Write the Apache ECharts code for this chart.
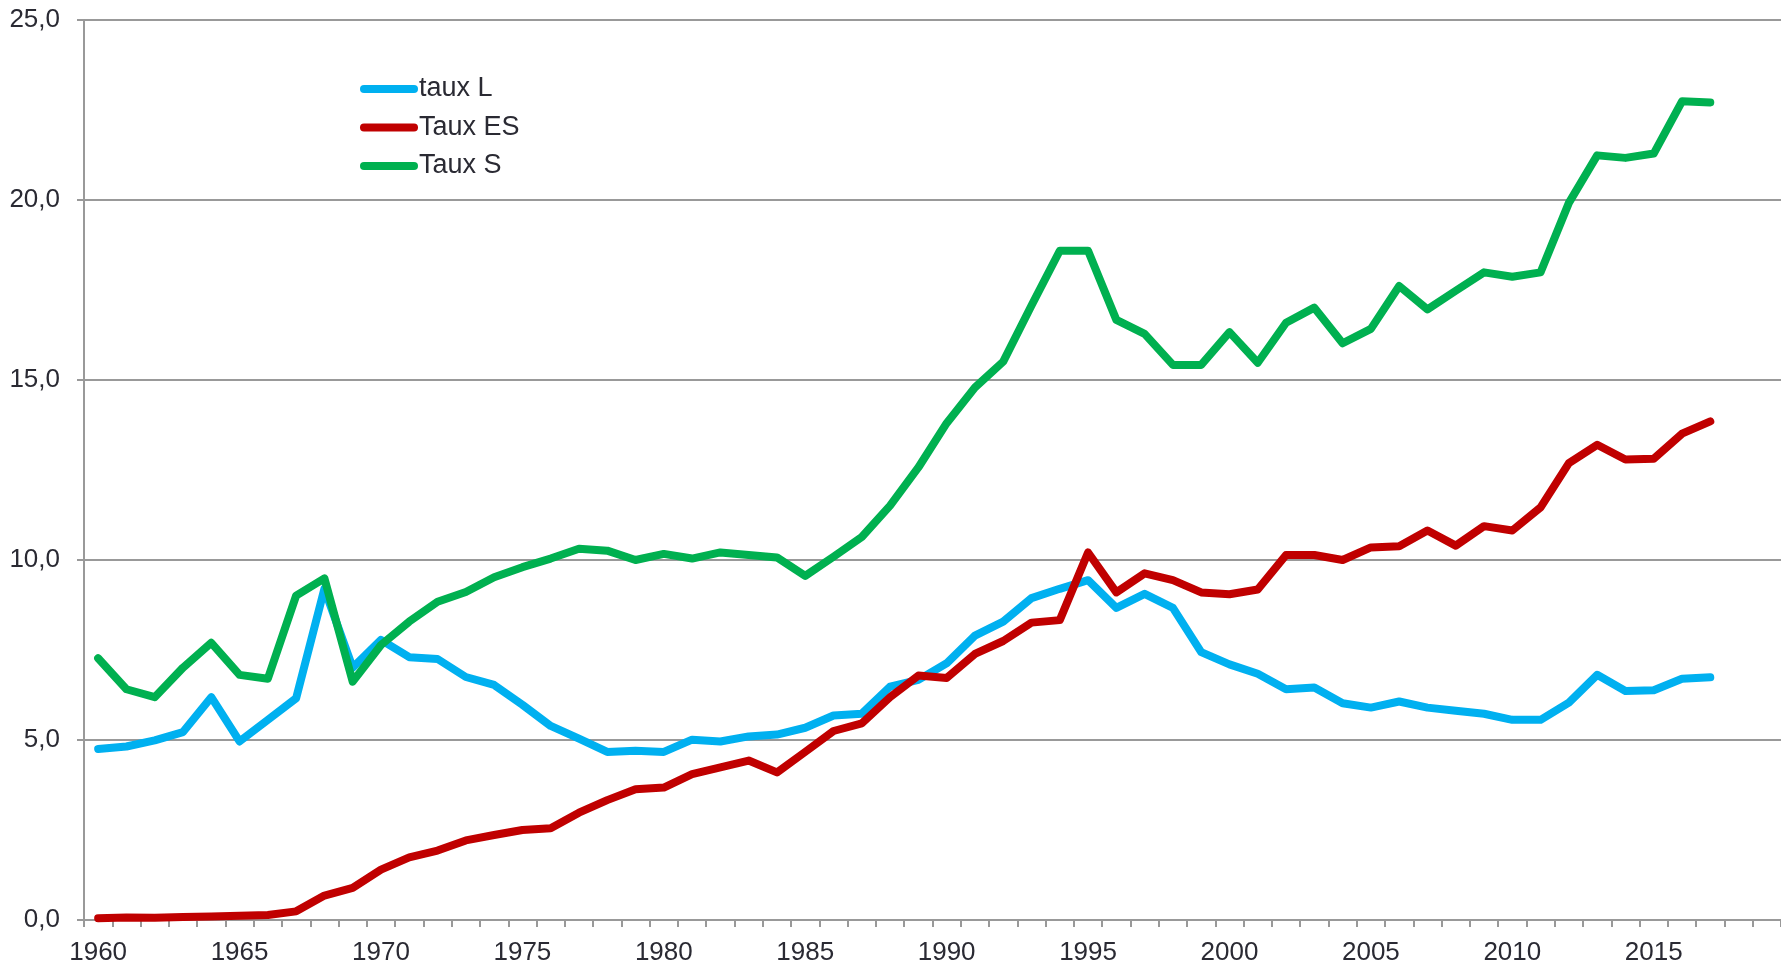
<!DOCTYPE html>
<html>
<head>
<meta charset="utf-8">
<script src="https://cdn.jsdelivr.net/npm/echarts@6/dist/echarts.min.js"></script>
<style>
  html, body { margin: 0; padding: 0; background: #fff; }
  #main { width: 1781px; height: 966px; }
</style>
</head>
<body>
<div id="main"></div>
<script>
// categories 1960..2019 (data stops at 2017)
var years = [];
for (var y = 1960; y <= 2019; y++) years.push(String(y));

var tauxL = [
  4.75, 4.82, 4.99, 5.22, 6.19, 4.96, 5.56, 6.16, 9.2, 7.01,
  7.78, 7.3, 7.25, 6.75, 6.53, 5.98, 5.39, 5.04, 4.67, 4.7,
  4.67, 5.01, 4.96, 5.1, 5.15, 5.34, 5.68, 5.73, 6.48, 6.67,
  7.13, 7.9, 8.29, 8.94, 9.2, 9.44, 8.67, 9.06, 8.67, 7.44,
  7.1, 6.84, 6.41, 6.46, 6.02, 5.9, 6.07, 5.9, 5.81, 5.73,
  5.56, 5.56, 6.04, 6.81, 6.36, 6.38, 6.7, 6.74
];
var tauxES = [
  0.05, 0.07, 0.06, 0.08, 0.1, 0.12, 0.14, 0.24, 0.68, 0.89,
  1.4, 1.74, 1.93, 2.21, 2.36, 2.5, 2.55, 2.98, 3.33, 3.63,
  3.68, 4.05, 4.24, 4.43, 4.1, 4.67, 5.25, 5.46, 6.19, 6.79,
  6.72, 7.39, 7.75, 8.26, 8.33, 10.21, 9.1, 9.63, 9.44, 9.1,
  9.05, 9.18, 10.14, 10.14, 10.0, 10.35, 10.38, 10.82, 10.4, 10.94,
  10.82, 11.46, 12.69, 13.2, 12.79, 12.81, 13.51, 13.85
];
var tauxS = [
  7.27, 6.41, 6.19, 7.01, 7.7, 6.81, 6.7, 9.01, 9.49, 6.62,
  7.64, 8.29, 8.84, 9.11, 9.52, 9.8, 10.04, 10.31, 10.26, 10.0,
  10.17, 10.04, 10.21, 10.14, 10.07, 9.56, 10.09, 10.64, 11.51, 12.57,
  13.8, 14.79, 15.51, 17.07, 18.59, 18.59, 16.67, 16.28, 15.42, 15.42,
  16.33, 15.48, 16.59, 17.01, 16.02, 16.42, 17.61, 16.96, 17.48, 17.99,
  17.87, 17.99, 19.92, 21.24, 21.17, 21.29, 22.74, 22.71
];

var textColor = "#2a2a33";
var gridColor = "#999999";
var font = "'Liberation Sans', Arial, sans-serif";

function mkLine(name, data, color) {
  return {
    name: name,
    type: "line",
    data: data,
    symbol: "none",
    lineStyle: { color: color, width: 8, cap: "round", join: "round" },
    itemStyle: { color: color },
  };
}

var myChart = echarts.init(document.getElementById("main"));
myChart.setOption({
  animation: false,
  backgroundColor: "#fff",
  grid: { left: 84, right: 0, top: 20, bottom: 45 },
  legend: {
    orient: "vertical",
    left: 355,
    top: 69,
    itemWidth: 58,
    itemHeight: 8,
    itemGap: 8.5,
    icon: "path://M4,0 L54,0 A4,4 0 0 1 54,8 L4,8 A4,4 0 0 1 4,0 Z",
    textStyle: { color: textColor, fontSize: 27, fontFamily: font, lineHeight: 30, padding: [0, 0, 0, -4] },
    data: ["taux L", "Taux ES", "Taux S"],
  },
  xAxis: {
    type: "category",
    data: years,
    boundaryGap: true,
    axisLine: { lineStyle: { color: gridColor, width: 2 } },
    axisTick: { show: true, interval: 0, length: 7, lineStyle: { color: gridColor, width: 2 } },
    axisLabel: {
      interval: function (idx, val) { return Number(val) % 5 === 0; },
      color: textColor,
      fontSize: 26,
      fontFamily: font,
      margin: 20,
    },
    splitLine: { show: false },
  },
  yAxis: {
    type: "value",
    min: 0,
    max: 25,
    interval: 5,
    axisLine: { show: true, lineStyle: { color: gridColor, width: 2 } },
    axisTick: { show: true, length: 7, lineStyle: { color: gridColor, width: 2 } },
    axisLabel: {
      color: textColor,
      fontSize: 26,
      fontFamily: font,
      margin: 24,
      formatter: function (v) { return v.toFixed(1).replace(".", ","); },
    },
    splitLine: { show: true, lineStyle: { color: gridColor, width: 2 } },
  },
  series: [
    mkLine("taux L", tauxL, "#00B0F0"),
    mkLine("Taux ES", tauxES, "#C00000"),
    mkLine("Taux S", tauxS, "#00B050"),
  ],
});
</script>
</body>
</html>
